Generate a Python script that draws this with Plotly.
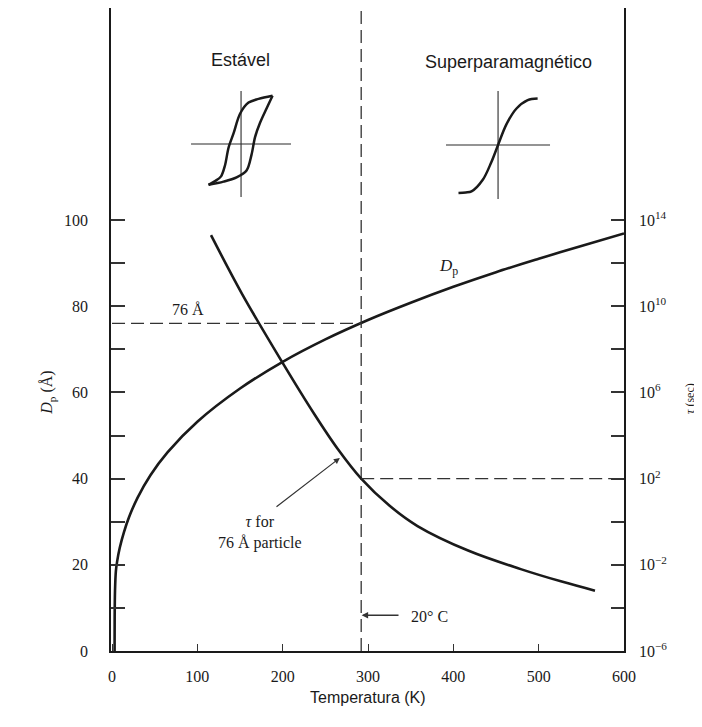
import plotly.graph_objects as go

# ---------------- data ----------------
T_dp = [3, 3.1, 3.5, 4.5, 6, 9, 14, 20, 30, 45, 65, 100, 150, 200, 250, 300, 350, 400, 450, 500, 550, 600]
D_p = [0, 8, 14, 18.5, 20.8, 23.9, 27.6, 31.1, 35.6, 40.8, 46.1, 53.2, 60.9, 67.1, 72.3, 76.8, 80.8, 84.5, 87.9, 91.0, 94.0, 96.9]

T_tau = [116, 152, 198, 237, 265, 292, 325, 358, 418, 479, 527, 566]
log_tau = [13.3, 10.6, 7.5, 5.0, 3.35, 2.0, 0.75, -0.2, -1.35, -2.2, -2.78, -3.2]
tau = [10 ** v for v in log_tau]

T_room = 292          # 20 C marker (K)
D_ref = 76            # 76 Angstrom particle
tau_ref = 1e2         # tau at room temperature (s)

x_ticks = [0, 100, 200, 300, 400, 500, 600]
y_ticks = [0, 10, 20, 30, 40, 50, 60, 70, 80, 90, 100]
y_ticktext = ["0", "", "20", "", "40", "", "60", "", "80", "", "100"]
tau_exp = [-6, -4, -2, 0, 2, 4, 6, 8, 10, 12, 14]
tau_ticks = [10 ** e for e in tau_exp]
tau_ticktext = ["10<sup>\u22126</sup>", "", "10<sup>\u22122</sup>", "", "10<sup>2</sup>", "",
                "10<sup>6</sup>", "", "10<sup>10</sup>", "", "10<sup>14</sup>"]

# hysteresis loop inset (stable): two branches
loop_up_u = [0.63, 0.35, 0.15, -0.02, -0.15, -0.25, -0.32, -0.40, -0.52, -0.65]
loop_up_v = [0.91, 0.85, 0.78, 0.57, 0.20, -0.07, -0.40, -0.61, -0.70, -0.77]
loop_lo_u = [-0.65, -0.35, -0.09, 0.11, 0.21, 0.28, 0.38, 0.51, 0.63]
loop_lo_v = [-0.77, -0.71, -0.63, -0.50, -0.20, 0.13, 0.40, 0.67, 0.91]
# superparamagnetic curve inset
sp_u = [-0.76, -0.62, -0.51, -0.29, -0.13, 0, 0.16, 0.35, 0.57, 0.76]
sp_v = [-0.89, -0.88, -0.86, -0.64, -0.32, 0, 0.38, 0.67, 0.83, 0.86]
cross_h = [-1, 1]
cross_v = [-1, 1]

Y_TOP = 149.2
LOG_TOP = -6 + Y_TOP / 5.0

SERIF = "Liberation Serif"
SANS = "Liberation Sans"
INK = "#1a1a1a"
GREY = "#333333"

fig = go.Figure()

fig.add_trace(go.Scatter(x=T_dp, y=D_p, mode="lines",
                         line=dict(color=INK, width=2.6, shape="spline", smoothing=0.8)))
fig.add_trace(go.Scatter(x=T_tau, y=tau, mode="lines", yaxis="y2",
                         line=dict(color=INK, width=2.6, shape="spline", smoothing=1.0)))

dash = dict(color=GREY, width=1.3, dash="13px,6px")
fig.add_trace(go.Scatter(x=[0, T_room], y=[D_ref, D_ref], mode="lines", line=dash))
fig.add_trace(go.Scatter(x=[T_room, T_room], y=[0, Y_TOP], mode="lines", line=dash))
fig.add_trace(go.Scatter(x=[T_room, 600], y=[tau_ref, tau_ref], mode="lines", yaxis="y2", line=dash))

# insets
for xa, ya in (("x3", "y3"), ("x4", "y4")):
    fig.add_trace(go.Scatter(x=cross_h, y=[0, 0], mode="lines", xaxis=xa, yaxis=ya,
                             line=dict(color="#2a2a2a", width=1.1)))
    fig.add_trace(go.Scatter(x=[0, 0], y=cross_v, mode="lines", xaxis=xa, yaxis=ya,
                             line=dict(color="#2a2a2a", width=1.1)))
fig.add_trace(go.Scatter(x=loop_up_u, y=loop_up_v, mode="lines", xaxis="x3", yaxis="y3",
                         line=dict(color=INK, width=2.5, shape="spline", smoothing=0.9)))
fig.add_trace(go.Scatter(x=loop_lo_u, y=loop_lo_v, mode="lines", xaxis="x3", yaxis="y3",
                         line=dict(color=INK, width=2.5, shape="spline", smoothing=0.9)))
fig.add_trace(go.Scatter(x=sp_u, y=sp_v, mode="lines", xaxis="x4", yaxis="y4",
                         line=dict(color=INK, width=2.5, shape="spline", smoothing=0.9)))

tickfont = dict(family=SERIF, size=16, color=INK)
inset_ax = dict(visible=False, range=[-1, 1], fixedrange=True)

fig.update_layout(
    width=702, height=727,
    margin=dict(l=103, r=86, t=0, b=84),
    plot_bgcolor="white", paper_bgcolor="white",
    showlegend=False,
    xaxis=dict(range=[-1.2, 600], tickvals=x_ticks, ticktext=[str(v) for v in x_ticks],
               ticks="inside", ticklen=7, tickwidth=1.3, tickcolor=GREY,
               showline=True, linecolor=INK, linewidth=1.6,
               showgrid=False, zeroline=False, tickfont=tickfont, ticklabelstandoff=10),
    yaxis=dict(range=[0, Y_TOP], tickvals=y_ticks, ticktext=y_ticktext,
               ticks="inside", ticklen=14, tickwidth=1.6, tickcolor=GREY,
               showline=True, linecolor=INK, linewidth=1.6,
               showgrid=False, zeroline=False, tickfont=tickfont, ticklabelstandoff=18),
    yaxis2=dict(type="log", range=[-6, LOG_TOP], overlaying="y", side="right",
                tickvals=tau_ticks, ticktext=tau_ticktext,
                ticks="inside", ticklen=13, tickwidth=1.6, tickcolor=GREY,
                showline=True, linecolor=INK, linewidth=1.6,
                showgrid=False, zeroline=False, tickfont=tickfont, ticklabelstandoff=10),
    xaxis3=dict(domain=[0.156, 0.351], anchor="y3", **inset_ax),
    yaxis3=dict(domain=[0.706, 0.871], anchor="x3", **inset_ax),
    xaxis4=dict(domain=[0.653, 0.856], anchor="y4", **inset_ax),
    yaxis4=dict(domain=[0.703, 0.871], anchor="x4", **inset_ax),
)

ann = []
ann.append(dict(x=150, y=137.1, xref="x", yref="y", text="Estável", showarrow=False,
                font=dict(family=SANS, size=18, color=INK)))
ann.append(dict(x=465, y=136.7, xref="x", yref="y", text="Superparamagnético", showarrow=False,
                font=dict(family=SANS, size=18, color=INK)))
ann.append(dict(x=89, y=79.3, xref="x", yref="y", text="76 Å", showarrow=False,
                font=dict(family=SERIF, size=16, color=INK)))
ann.append(dict(x=394, y=89, xref="x", yref="y", text="<i>D</i><sub>p</sub>", showarrow=False,
                font=dict(family=SERIF, size=17, color=INK)))
ann.append(dict(x=173, y=27.6, xref="x", yref="y", text="<i>τ</i> for<br>76 Å particle",
                showarrow=False, align="center",
                font=dict(family=SERIF, size=16, color=INK)))
ann.append(dict(x=267, y=44.8, xref="x", yref="y", ax=191, ay=33.2, axref="x", ayref="y",
                text="", showarrow=True, arrowhead=2, arrowsize=1, arrowwidth=1.2, arrowcolor=GREY))
ann.append(dict(x=372.6, y=8.1, xref="x", yref="y", text="20° C", showarrow=False,
                font=dict(family=SERIF, size=16, color=INK)))
ann.append(dict(x=T_room + 0.5, y=8.3, xref="x", yref="y", ax=337.5, ay=8.3, axref="x", ayref="y",
                text="", showarrow=True, arrowhead=2, arrowsize=1, arrowwidth=1.3, arrowcolor=GREY))
ann.append(dict(x=-0.146, y=0.401, xref="paper", yref="paper", text="<i>D</i><sub>p</sub> (Å)",
                showarrow=False, textangle=-90, font=dict(family=SERIF, size=16, color=INK)))
ann.append(dict(x=1.146, y=0.3935, xref="paper", yref="paper", text="<i>τ</i> (sec)",
                showarrow=False, textangle=-90, font=dict(family=SERIF, size=12, color=INK)))
ann.append(dict(x=0.501, y=-0.0886, xref="paper", yref="paper", text="Temperatura (K)",
                showarrow=False, font=dict(family=SANS, size=16, color=INK)))
fig.update_layout(annotations=ann)

fig.write_html("out.html")
